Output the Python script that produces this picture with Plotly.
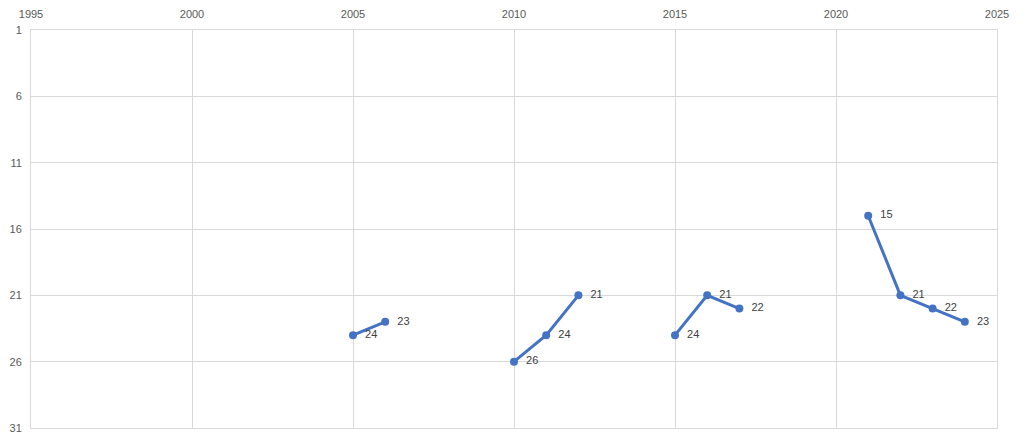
import plotly.graph_objects as go

years = [2005, 2006, 2007, 2008, 2009, 2010, 2011, 2012, 2013, 2014,
         2015, 2016, 2017, 2018, 2019, 2020, 2021, 2022, 2023, 2024]
ranks = [24, 23, None, None, None, 26, 24, 21, None, None,
         24, 21, 22, None, None, None, 15, 21, 22, 23]
x_ticks = [1995, 2000, 2005, 2010, 2015, 2020, 2025]
y_ticks = [1, 6, 11, 16, 21, 26, 31]

labels = ["" if r is None else "  " + str(r) for r in ranks]

fig = go.Figure()
fig.add_trace(go.Scatter(
    x=years, y=ranks, mode="lines+markers+text",
    text=labels, textposition="middle right",
    textfont=dict(family="Liberation Sans, Arial, sans-serif", size=11, color="#404040"),
    line=dict(color="#4472C4", width=3),
    marker=dict(color="#4472C4", size=8),
    connectgaps=False, cliponaxis=False, hoverinfo="x+y",
))

grid = "#d9d9d9"
tf = dict(family="Liberation Sans, Arial, sans-serif", size=11, color="#595959")
fig.update_layout(
    width=1008, height=426,
    margin=dict(l=23, r=19, t=22, b=6),
    paper_bgcolor="white", plot_bgcolor="white",
    showlegend=False,
    font=tf,
    xaxis=dict(side="top", range=[1995, 2025], tickvals=x_ticks,
               tickfont=tf, automargin=False,
               showgrid=True, gridcolor=grid, gridwidth=1,
               showline=True, linecolor=grid, mirror=True,
               zeroline=False, ticks="", ticklabelstandoff=7),
    yaxis=dict(range=[31, 1], tickvals=y_ticks,
               tickfont=tf, automargin=False,
               showgrid=True, gridcolor=grid, gridwidth=1,
               showline=True, linecolor=grid, mirror=True,
               zeroline=False, ticks="", ticklabelstandoff=6),
)
fig.write_html("out.html")
